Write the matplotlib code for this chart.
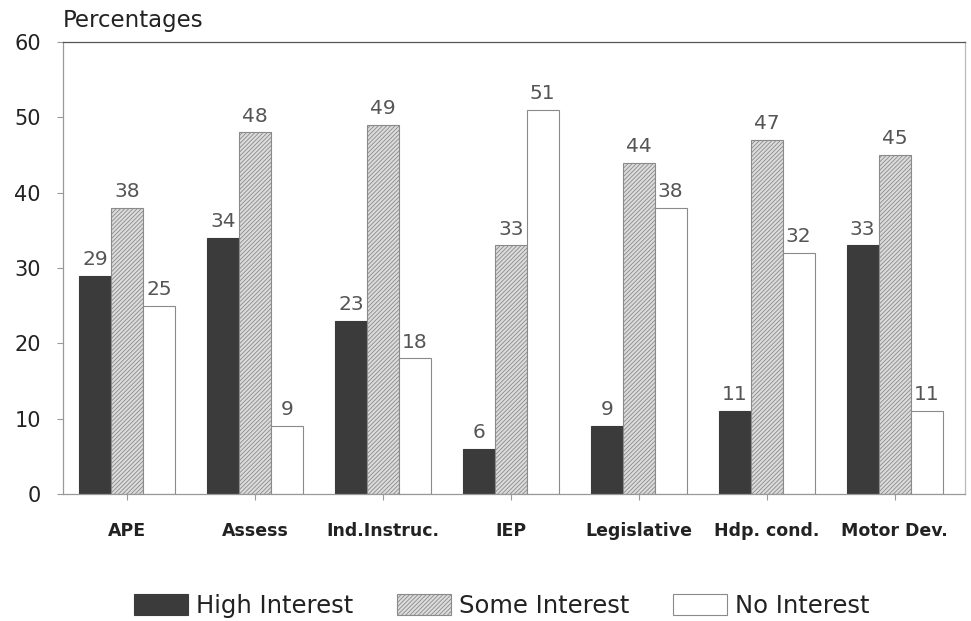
import matplotlib
matplotlib.use("Agg")
import matplotlib.pyplot as plt
import numpy as np
from matplotlib.patches import Patch

categories = ["APE", "Assess", "Ind.Instruc.", "IEP", "Legislative", "Hdp. cond.", "Motor Dev."]
high = [29, 34, 23, 6, 9, 11, 33]
some = [38, 48, 49, 33, 44, 47, 45]
none_ = [25, 9, 18, 51, 38, 32, 11]
series_names = ["High Interest", "Some Interest", "No Interest"]
yticks = [0, 10, 20, 30, 40, 50, 60]

plt.rcParams['font.family'] = ['DejaVu Sans']
plt.rcParams['hatch.color'] = '#9a9a9a'
plt.rcParams['hatch.linewidth'] = 0.6

fig = plt.figure(figsize=(9.71, 6.21), dpi=100)
ax = fig.add_axes([0.0649, 0.2045, 0.9289, 0.7279])

x = np.arange(len(categories))
w = 0.25
styles = [
    dict(facecolor='#3b3b3b', edgecolor='#3b3b3b', linewidth=0.8),
    dict(facecolor='#dcdcdc', edgecolor='#8a8a8a', hatch='////////', linewidth=0.8),
    dict(facecolor='white', edgecolor='#8a8a8a', linewidth=0.8),
]
for i, vals in enumerate([high, some, none_]):
    bars = ax.bar(x + (i - 1) * w, vals, w, **styles[i], zorder=2)
    for b, v in zip(bars, vals):
        ax.text(b.get_x() + b.get_width() / 2, v + 0.9, str(v), ha='center', va='bottom',
                fontsize=14.5, color='#555555')

ax.set_xlim(-0.5, 6.55)
ax.set_ylim(0, 60)
ax.set_yticks(yticks)
ax.set_yticklabels([str(t) for t in yticks], fontsize=15, color='#222222')
ax.set_xticks(x)
ax.set_xticklabels(categories, fontsize=12.5, color='#222222', fontweight='bold')
ax.tick_params(axis='x', length=4, color='#999999', pad=16)
ax.tick_params(axis='y', length=4, color='#999999', pad=12)
for s in ['left', 'bottom']:
    ax.spines[s].set_color('#999999')
ax.spines['top'].set_color('#555555')
ax.spines['right'].set_color('#bbbbbb')
for s in ax.spines.values():
    s.set_linewidth(0.9)

fig.text(0.0649, 0.948, "Percentages", fontsize=16.5, color='#222222', ha='left', va='bottom')

handles = [Patch(**styles[i]) for i in range(3)]
leg = fig.legend(handles, series_names, loc='lower center', bbox_to_anchor=(0.517, -0.03),
                 ncol=3, frameon=False, fontsize=17.5, handlelength=2.2, handleheight=1.0,
                 columnspacing=1.8, handletextpad=0.35)
for t in leg.get_texts():
    t.set_color('#222222')

fig.savefig("out.png", dpi=100)
